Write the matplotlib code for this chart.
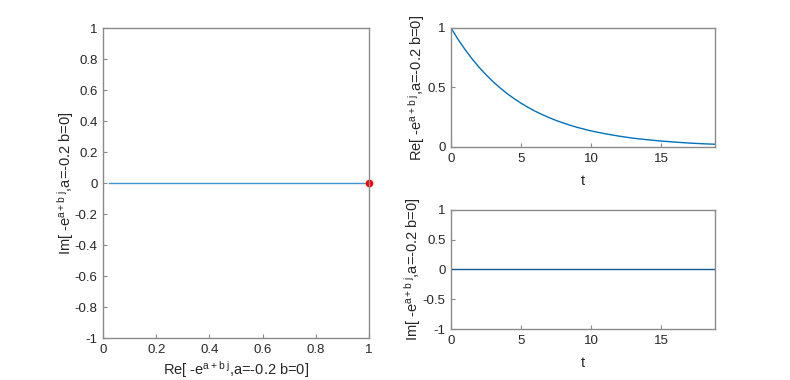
"""Complex exponential e^{(a+bj)t}, a=-0.2, b=0."""

import numpy as np
from matplotlib import pyplot as plt

plt.rcParams['font.family'] = ['Liberation Sans', 'DejaVu Sans']
plt.rcParams['mathtext.fontset'] = 'custom'
plt.rcParams['mathtext.rm'] = 'Liberation Sans'
plt.rcParams['mathtext.it'] = 'Liberation Sans'

# samples
t = [0, 0.5, 1, 1.5, 2, 2.5, 3, 3.5, 4, 4.5, 5, 5.5, 6, 6.5, 7, 7.5, 8, 8.5,
     9, 9.5, 10, 11, 12, 13, 14, 15, 16, 17, 18, 18.85]
re_vals = [1.0, 0.905, 0.819, 0.741, 0.670, 0.607, 0.549, 0.497, 0.449,
           0.407, 0.368, 0.333, 0.301, 0.273, 0.247, 0.223, 0.202, 0.183,
           0.165, 0.150, 0.135, 0.111, 0.091, 0.074, 0.061, 0.050, 0.041,
           0.033, 0.027, 0.023]
im_vals = [0.0] * len(t)

blue = '#0072BD'
axcol = '#8a8a8a'
txtcol = '#262626'

sup = r'$\mathregular{^{a+b\ j}}$'
re_lab = 'Re[ -e' + sup + ',a=-0.2 b=0]'
im_lab = 'Im[ -e' + sup + ',a=-0.2 b=0]'

fig = plt.figure(figsize=(7.9, 3.8), dpi=100)
ax1 = fig.add_axes([0.1304, 0.1105, 0.3367, 0.8158])
ax2 = fig.add_axes([0.5709, 0.6132, 0.3342, 0.3132])
ax3 = fig.add_axes([0.5709, 0.1342, 0.3342, 0.3132])


def style(ax):
    for s in ax.spines.values():
        s.set_color(axcol)
        s.set_linewidth(1)
    ax.tick_params(direction='in', length=3, color=axcol, labelcolor=txtcol,
                   labelsize=9.5, top=False, right=False, pad=4)
    ax.xaxis.label.set_color(txtcol)
    ax.yaxis.label.set_color(txtcol)


# left: complex plane
ax1.plot(re_vals, im_vals, color='#3d95d4', lw=1)
ax1.plot(re_vals[0], im_vals[0], 'o', color='red', ms=4.5, clip_on=False)
ax1.set_xlim(0, 1)
ax1.set_ylim(-1, 1)
ax1.set_xticks(np.arange(0, 1.01, 0.2))
ax1.set_xticklabels(['0', '0.2', '0.4', '0.6', '0.8', '1'])
ax1.set_yticks(np.arange(-1, 1.01, 0.2))
ax1.set_yticklabels(['-1', '-0.8', '-0.6', '-0.4', '-0.2', '0', '0.2', '0.4',
                     '0.6', '0.8', '1'])
ax1.set_xlabel(re_lab, fontsize=10.5, labelpad=2.5)
ax1.set_ylabel(im_lab, fontsize=10.5, labelpad=-1)
style(ax1)

# top right: real part vs t
ax2.plot(t, re_vals, color=blue, lw=1)
ax2.set_xlim(0, 18.85)
ax2.set_ylim(0, 1)
ax2.set_xticks([0, 5, 10, 15])
ax2.set_yticks([0, 0.5, 1])
ax2.set_yticklabels(['0', '0.5', '1'])
ax2.set_xlabel('t', fontsize=10.5, labelpad=7)
ax2.set_ylabel(re_lab, fontsize=10.5, labelpad=0)
style(ax2)

# bottom right: imaginary part vs t
ax3.plot(t, im_vals, color='#125a94', lw=1)
ax3.set_xlim(0, 18.85)
ax3.set_ylim(-1, 1)
ax3.set_xticks([0, 5, 10, 15])
ax3.set_yticks([-1, -0.5, 0, 0.5, 1])
ax3.set_yticklabels(['-1', '-0.5', '0', '0.5', '1'])
ax3.set_xlabel('t', fontsize=10.5, labelpad=7)
ax3.set_ylabel(im_lab, fontsize=10.5, labelpad=0)
style(ax3)

fig.savefig('out.png', dpi=100, facecolor='white')
